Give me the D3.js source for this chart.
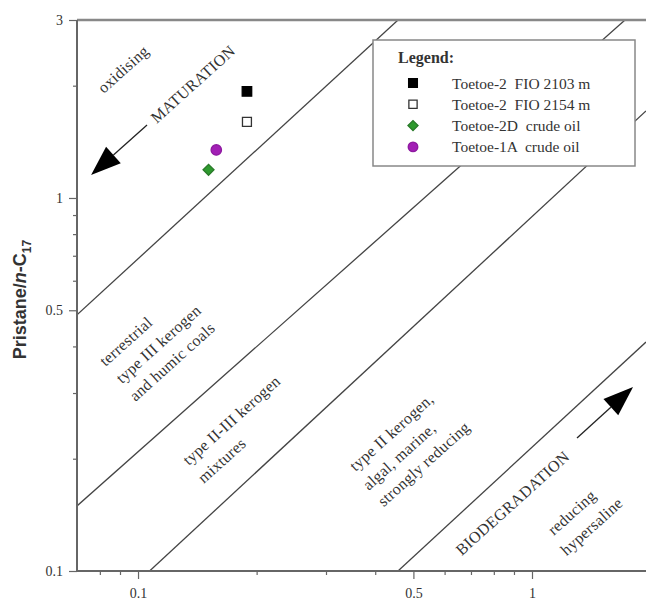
<!DOCTYPE html>
<html>
<head>
<meta charset="utf-8">
<script src="https://cdn.jsdelivr.net/npm/d3@7"></script>
<style>
  body { margin: 0; background: #fff; }
  svg { display: block; }
  .serif { font-family: "Liberation Serif", "Times New Roman", serif; fill: #333; }
</style>
</head>
<body>
<div id="chart"></div>
<script>
// samples plotted
var samples = ["Toetoe-2  FIO 2103 m", "Toetoe-2  FIO 2154 m", "Toetoe-2D  crude oil", "Toetoe-1A  crude oil"];
var phytaneC18 = [0.189, 0.189, 0.151, 0.158];
var pristaneC17 = [1.93, 1.60, 1.19, 1.345];

// axis ticks
var xTickLabels = [0.1, 0.5, 1];
var yTickLabels = [0.1, 0.5, 1, 3];
var xMinorTicks = [0.08, 0.09, 0.2, 0.3, 0.4, 0.6, 0.7, 0.8, 0.9, 2];
var yMinorTicks = [0.2, 0.3, 0.4, 0.6, 0.7, 0.8, 0.9, 2];

// field boundaries (x1, y1, x2, y2)
var boundaryX1 = [0.07, 0.07, 0.107, 0.457];
var boundaryY1 = [0.486, 0.1494, 0.1, 0.1];
var boundaryX2 = [0.457, 1.722, 1.947, 1.947];
var boundaryY2 = [3, 3, 1.711, 0.411];

// field labels (start point, data units)
var labelText = ["oxidising", "MATURATION", "terrestrial", "type III kerogen", "and humic coals",
  "type II-III kerogen", "mixtures", "type II kerogen,", "algal, marine,", "strongly reducing",
  "BIODEGRADATION", "reducing", "hypersaline"];
var labelX = [0.0801, 0.1092, 0.0809, 0.0891, 0.0964, 0.1316, 0.1437, 0.349, 0.3768, 0.4113, 0.649, 1.111, 1.198];
var labelY = [1.948, 1.619, 0.361, 0.325, 0.291, 0.196, 0.1754, 0.189, 0.168, 0.152, 0.1124, 0.1272, 0.1124];

// trend arrows (from -> tip)
var arrowFromX = [0.1054, 1.301];
var arrowFromY = [1.569, 0.2274];
var arrowToX = [0.0760, 1.805];
var arrowToY = [1.152, 0.3113];

var width = 646, height = 600;
var svg = d3.select("#chart").append("svg")
  .attr("width", width)
  .attr("height", height);

var x = d3.scaleLog().domain([0.07, 2]).range([77, 650.6]);
var y = d3.scaleLog().domain([0.1, 3]).range([571, 20]);

svg.append("clipPath").attr("id", "plot-clip")
  .append("rect")
  .attr("x", x.range()[0]).attr("y", y.range()[1])
  .attr("width", x.range()[1] - x.range()[0])
  .attr("height", y.range()[0] - y.range()[1]);

var plot = svg.append("g").attr("clip-path", "url(#plot-clip)");

// boundary lines
plot.selectAll("line.boundary")
  .data(boundaryX1)
  .enter()
  .append("line")
  .attr("class", "boundary")
  .attr("x1", function(d, i) { return x(boundaryX1[i]); })
  .attr("y1", function(d, i) { return y(boundaryY1[i]); })
  .attr("x2", function(d, i) { return x(boundaryX2[i]); })
  .attr("y2", function(d, i) { return y(boundaryY2[i]); })
  .style("stroke", "#444")
  .style("stroke-width", 1.3);

// field labels
plot.selectAll("text.field")
  .data(labelText)
  .enter()
  .append("text")
  .attr("class", "field serif")
  .attr("transform", function(d, i) {
    return "translate(" + x(labelX[i]) + "," + y(labelY[i]) + ") rotate(-42)";
  })
  .attr("dominant-baseline", "central")
  .style("font-size", "16px")
  .style("letter-spacing", "0.3px")
  .text(function(d) { return d; });

// arrows
arrowFromX.forEach(function(d, i) {
  var x1 = x(arrowFromX[i]), y1 = y(arrowFromY[i]);
  var x2 = x(arrowToX[i]), y2 = y(arrowToY[i]);
  var a = Math.atan2(y2 - y1, x2 - x1);
  var len = 30, half = 11;
  var bx = x2 - len * Math.cos(a), by = y2 - len * Math.sin(a);
  plot.append("line")
    .attr("x1", x1).attr("y1", y1).attr("x2", bx).attr("y2", by)
    .style("stroke", "#222").style("stroke-width", 1.3);
  plot.append("path")
    .attr("d", "M" + x2 + "," + y2 +
      "L" + (bx + half * Math.sin(a)) + "," + (by - half * Math.cos(a)) +
      "L" + (bx - half * Math.sin(a)) + "," + (by + half * Math.cos(a)) + "Z")
    .style("fill", "#000");
});

// axes frame
var frame = svg.append("g");
frame.append("line")
  .attr("x1", x.range()[0]).attr("y1", y.range()[1])
  .attr("x2", width).attr("y2", y.range()[1])
  .style("stroke", "#888").style("stroke-width", 2.5);
frame.append("line")
  .attr("x1", x.range()[0]).attr("y1", y.range()[1])
  .attr("x2", x.range()[0]).attr("y2", y.range()[0])
  .style("stroke", "#666").style("stroke-width", 2);
frame.append("line")
  .attr("x1", x.range()[0]).attr("y1", y.range()[0])
  .attr("x2", width).attr("y2", y.range()[0])
  .style("stroke", "#666").style("stroke-width", 2);

// x axis
var xAxisG = svg.append("g").attr("transform", "translate(0," + y.range()[0] + ")");
xAxisG.call(d3.axisBottom(x).tickValues(xMinorTicks).tickSize(4).tickFormat(""));
xAxisG.append("g").call(d3.axisBottom(x).tickValues(xTickLabels).tickSize(8).tickPadding(9)
  .tickFormat(d3.format("")));
xAxisG.selectAll(".domain").remove();
xAxisG.selectAll("line").style("stroke", "#666").style("stroke-width", 1.2);
xAxisG.selectAll("text").attr("class", "serif").style("font-size", "14px");

// y axis
var yAxisG = svg.append("g").attr("transform", "translate(" + x.range()[0] + ",0)");
yAxisG.call(d3.axisLeft(y).tickValues(yMinorTicks).tickSize(4).tickFormat(""));
yAxisG.append("g").call(d3.axisLeft(y).tickValues(yTickLabels).tickSize(8).tickPadding(6)
  .tickFormat(d3.format("")));
yAxisG.selectAll(".domain").remove();
yAxisG.selectAll("line").style("stroke", "#666").style("stroke-width", 1.2);
yAxisG.selectAll("text").attr("class", "serif").style("font-size", "14px");

// y axis title
var yTitle = svg.append("text")
  .attr("transform", "translate(26," + ((y.range()[0] + y.range()[1]) / 2 + 4) + ") rotate(-90)")
  .attr("text-anchor", "middle")
  .style("font-family", "'Liberation Sans', Arial, sans-serif")
  .style("font-weight", "bold")
  .style("font-size", "18px")
  .style("fill", "#333");
yTitle.append("tspan").text("Pristane/");
yTitle.append("tspan").style("font-style", "italic").text("n");
yTitle.append("tspan").text("-C");
yTitle.append("tspan").attr("dy", 5).style("font-size", "12px").text("17");

// sample markers
var markerFill = ["#000", "#fff", "#2e9a2e", "#a21fb5"];
var markerStroke = ["#000", "#333", "#2a7a2a", "#8e1aa0"];
var markerShape = [d3.symbolSquare, d3.symbolSquare, d3.symbolSquare, d3.symbolCircle];
var markerSize = [90, 80, 60, 85];
var markerRotate = [0, 0, 45, 0];

svg.selectAll("path.sample")
  .data(samples)
  .enter()
  .append("path")
  .attr("class", "sample")
  .attr("transform", function(d, i) {
    return "translate(" + x(phytaneC18[i]) + "," + y(pristaneC17[i]) + ") rotate(" + markerRotate[i] + ")";
  })
  .attr("d", function(d, i) { return d3.symbol().type(markerShape[i]).size(markerSize[i])(); })
  .style("fill", function(d, i) { return markerFill[i]; })
  .style("stroke", function(d, i) { return markerStroke[i]; })
  .style("stroke-width", 1.3);

// legend
var legend = svg.append("g").attr("transform", "translate(373,40)");
legend.append("rect")
  .attr("width", 262).attr("height", 126)
  .style("fill", "#fff").style("stroke", "#888").style("stroke-width", 1.5);
legend.append("text")
  .attr("class", "serif")
  .attr("x", 25).attr("y", 23)
  .style("font-size", "16px").style("font-weight", "bold")
  .text("Legend:");
var rows = legend.selectAll("g.row")
  .data(samples)
  .enter()
  .append("g")
  .attr("class", "row")
  .attr("transform", function(d, i) { return "translate(0," + (43 + i * 21.3) + ")"; });
rows.append("path")
  .attr("transform", function(d, i) { return "translate(40,0) rotate(" + markerRotate[i] + ")"; })
  .attr("d", function(d, i) { return d3.symbol().type(markerShape[i]).size(markerSize[i] * 0.85)(); })
  .style("fill", function(d, i) { return markerFill[i]; })
  .style("stroke", function(d, i) { return markerStroke[i]; })
  .style("stroke-width", 1.3);
rows.append("text")
  .attr("class", "serif")
  .attr("x", 79)
  .attr("dominant-baseline", "central")
  .style("font-size", "15.5px")
  .style("white-space", "pre")
  .text(function(d) { return d; });
</script>
</body>
</html>
